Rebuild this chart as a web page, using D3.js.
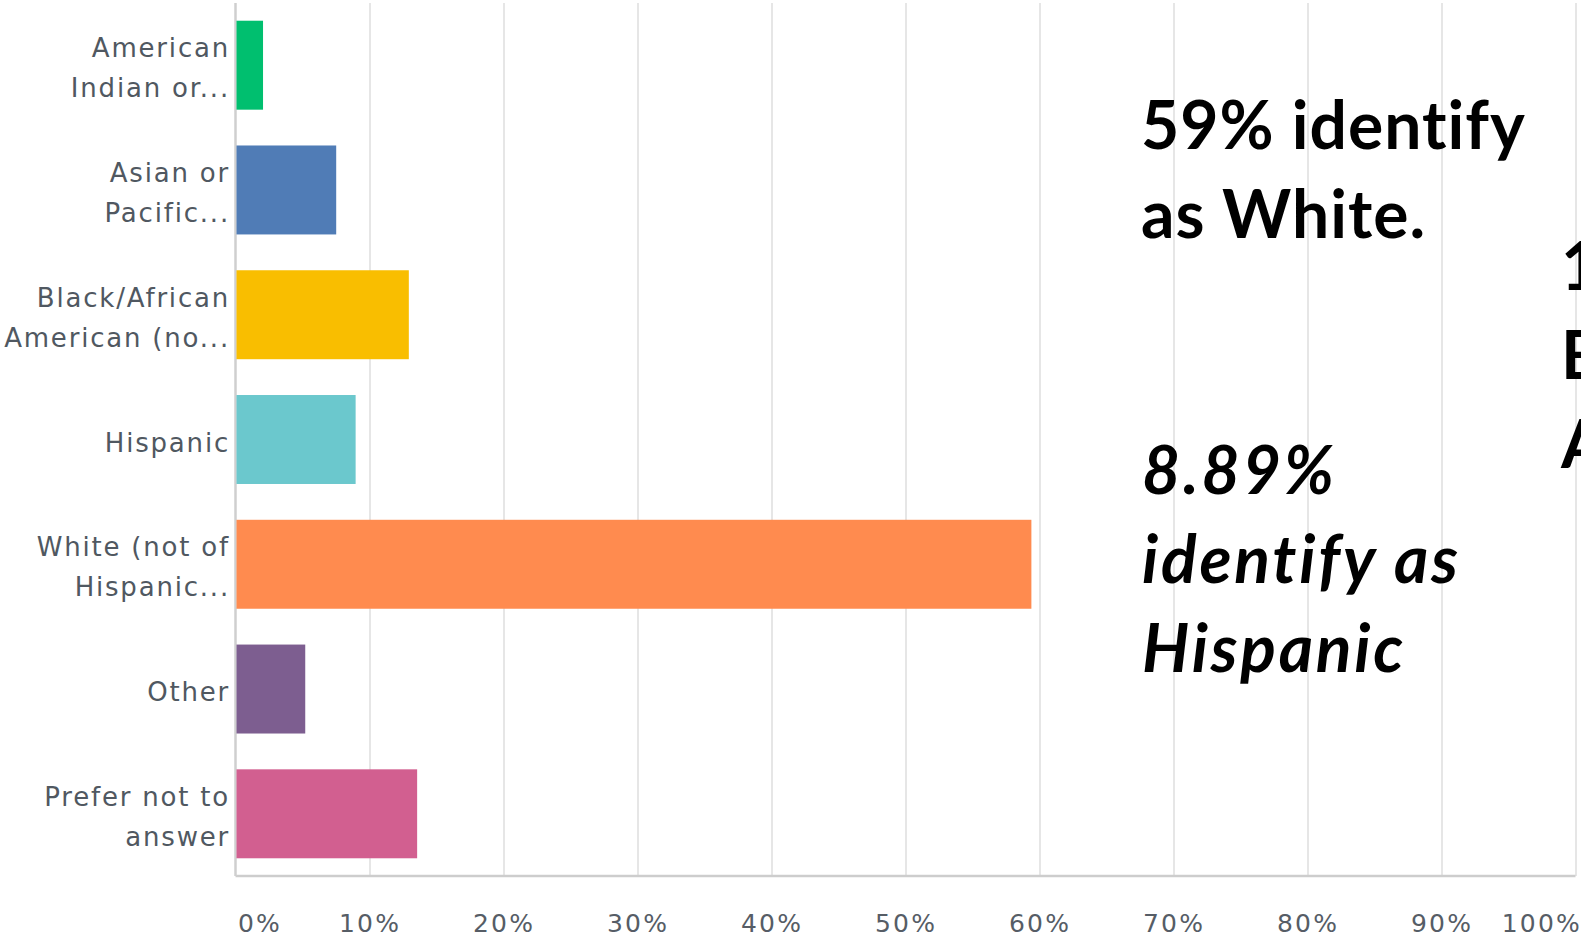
<!DOCTYPE html>
<html>
<head>
<meta charset="utf-8">
<script src="https://cdn.jsdelivr.net/npm/d3@7"></script>
<style>
  body { margin: 0; background: #fff; }
  svg { display: block; }
  .cat { font-family: "DejaVu Sans", sans-serif; font-size: 26px; letter-spacing: 1.8px; fill: #505861; }
  .tick text { font-family: "DejaVu Sans", sans-serif; font-size: 25px; letter-spacing: 2.2px; fill: #565d66; }
  .note { font-family: Lato, "Open Sans", sans-serif; font-size: 66px; font-weight: bold; fill: #000; letter-spacing: 1px; }
</style>
</head>
<body>
<div id="chart"></div>
<script>
const categories = [
  "American\nIndian or...",
  "Asian or\nPacific...",
  "Black/African\nAmerican (no...",
  "Hispanic",
  "White (not of\nHispanic...",
  "Other",
  "Prefer not to\nanswer"
]
const values = [1.98, 7.44, 12.86, 8.89, 59.32, 5.13, 13.48]
const colors = ["#00bf6f", "#507cb6", "#f9be00", "#6bc8cd", "#ff8b4f", "#7d5e90", "#d25f90"]
const tickValues = [0, 10, 20, 30, 40, 50, 60, 70, 80, 90, 100]
const whiteNote = ["59% identify", "as White."]
const hispanicNote = ["8.89%", "identify as", "Hispanic"]
const blackNote = ["12.86% identify", "Black/African", "American"]

const width = 1581
const height = 939
const plotLeft = 235.5
const plotRight = 1575.5
const plotTop = 3
const plotBottom = 876

const svg = d3.select('#chart')
  .append('svg')
    .attr('width', width)
    .attr('height', height)

const xScale = d3.scaleLinear()
  .domain([0, 100])
  .range([plotLeft, plotRight])

const yScale = d3.scaleBand()
  .domain(categories)
  .range([plotTop, plotBottom])
  .paddingInner(0.287)
  .paddingOuter(0.142)

// vertical grid
const grid = svg.append('g')
  .attr('transform', 'translate(0,' + plotBottom + ')')
  .call(d3.axisBottom(xScale)
    .tickValues(tickValues.slice(1))
    .tickSize(-(plotBottom - plotTop))
    .tickFormat(''))
grid.select('.domain').remove()
grid.selectAll('line').attr('stroke', '#e6e6e6').attr('stroke-width', 2)

// base lines
svg.append('line')
  .attr('x1', plotLeft).attr('x2', plotRight)
  .attr('y1', plotBottom).attr('y2', plotBottom)
  .attr('stroke', '#cdcdcd').attr('stroke-width', 2.5)
svg.append('line')
  .attr('x1', plotLeft).attr('x2', plotLeft)
  .attr('y1', plotTop).attr('y2', plotBottom)
  .attr('stroke', '#cfcfcf').attr('stroke-width', 2.5)

// bars
svg.selectAll('.bar')
  .data(values)
  .enter()
  .append('rect')
    .attr('class', 'bar')
    .attr('x', xScale(0) + 1)
    .attr('y', (d, i) => yScale(categories[i]))
    .attr('width', d => xScale(d) - xScale(0))
    .attr('height', yScale.bandwidth())
    .attr('fill', (d, i) => colors[i])

// category labels
categories.forEach(c => {
  const lines = c.split('\n')
  const mid = yScale(c) + yScale.bandwidth() / 2
  const t = svg.append('text')
    .attr('class', 'cat')
    .attr('text-anchor', 'end')
  lines.forEach((l, j) => {
    t.append('tspan')
      .attr('x', 230)
      .attr('y', mid + 12 + (j - (lines.length - 1) / 2) * 40)
      .text(l)
  })
})

// x axis labels
const xAxis = svg.append('g')
  .attr('transform', 'translate(0,' + plotBottom + ')')
  .call(d3.axisBottom(xScale)
    .tickValues(tickValues)
    .tickSize(0)
    .tickPadding(38)
    .tickFormat(d => d + '%'))
xAxis.select('.domain').remove()
xAxis.selectAll('text').attr('fill', null)
xAxis.selectAll('.tick').filter(d => d === 0).select('text')
  .attr('text-anchor', 'start').attr('x', 2)
xAxis.selectAll('.tick').filter(d => d === 100).select('text')
  .attr('text-anchor', 'end').attr('x', 6)

// notes
function note(lines, x, y0, italic) {
  const t = svg.append('text').attr('class', 'note')
    .style('font-style', italic ? 'italic' : 'normal')
    .style('letter-spacing', italic ? '2.8px' : '1px')
  lines.forEach((l, j) => {
    t.append('tspan').attr('x', x).attr('y', y0 + j * 89).text(l)
  })
}
note(whiteNote, 1141, 149, false)
note(hispanicNote, 1142, 494, true)
note(blackNote, 1561, 290, false)
</script>
</body>
</html>
